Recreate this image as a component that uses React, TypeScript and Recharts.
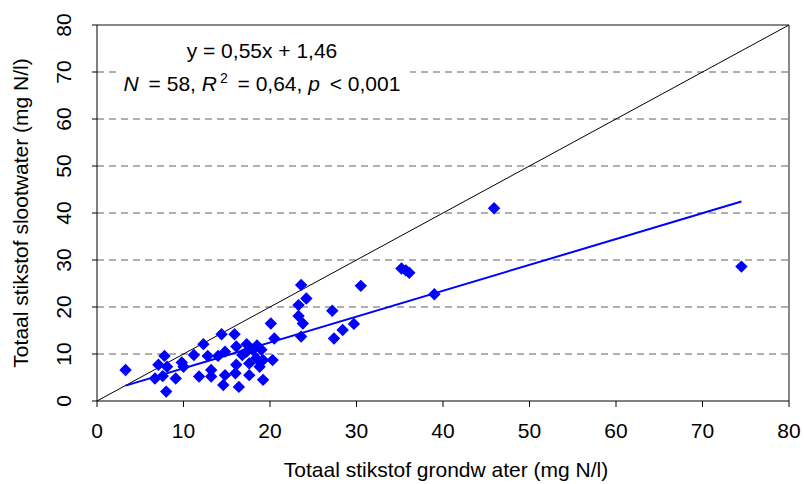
import { ScatterChart, Scatter, XAxis, YAxis, CartesianGrid, ReferenceLine, Customized } from 'recharts';

// groundwater (x) vs ditch water (y) total nitrogen, mg N/l
const groundwater = [
  3.3, 6.7, 7.1, 7.8, 8.1, 7.6, 8.0, 9.1, 10.0, 9.8,
  11.2, 12.3, 11.8, 12.8, 13.2, 13.2, 14.4, 14.0, 14.8, 14.6,
  15.9, 16.1, 16.1, 16.0, 16.4, 17.3, 17.3, 18.0, 19.0, 18.4,
  19.2, 20.3, 17.6, 18.8, 17.6, 19.2, 20.1, 20.5, 23.6, 24.2,
  23.3, 23.3, 23.8, 23.6, 27.2, 27.4, 28.4, 29.7, 30.5, 35.2,
  35.7, 36.1, 39.0, 45.9, 74.5, 16.8, 14.8, 18.5,
];
const slootwater = [
  6.6, 4.8, 7.7, 9.6, 7.3, 5.3, 2.0, 4.8, 7.3, 8.2,
  9.8, 12.1, 5.2, 9.6, 6.6, 5.2, 14.2, 9.6, 10.5, 3.4,
  14.2, 11.6, 7.7, 5.9, 3.0, 12.1, 10.5, 10.9, 10.9, 9.1,
  8.7, 8.7, 8.0, 7.3, 5.5, 4.5, 16.5, 13.3, 24.7, 21.8,
  20.4, 18.1, 16.5, 13.7, 19.2, 13.3, 15.1, 16.4, 24.5, 28.2,
  27.8, 27.3, 22.7, 41.0, 28.6, 9.8, 5.5, 11.8,
];

const xTicks = [0, 10, 20, 30, 40, 50, 60, 70, 80];
const yTicks = [0, 10, 20, 30, 40, 50, 60, 70, 80];

// regression from the figure: y = 0,55x + 1,46
const slope = 0.55;
const intercept = 1.46;

const points = groundwater.map((x, i) => ({ x, y: slootwater[i] }));
const xMin = Math.min(...groundwater);
const xMax = Math.max(...groundwater);

const FONT = '"Liberation Sans", Arial, sans-serif';
const FS = 21;

const Diamond = ({ cx, cy }: any) => {
  const r = 6.2;
  return (
    <polygon
      points={`${cx},${cy - r} ${cx + r},${cy} ${cx},${cy + r} ${cx - r},${cy}`}
      fill="#0000ff"
    />
  );
};

// y tick labels are drawn turned a quarter, like the axis title
const YTick = ({ x, y, payload }: any) => (
  <text
    x={x}
    y={y}
    transform={`rotate(-90, ${x}, ${y})`}
    textAnchor="middle"
    fontSize={FS}
    fontFamily={FONT}
    fill="#000"
  >
    {payload.value}
  </text>
);

const Annotations = () => (
  <g fontFamily={FONT} fontSize={FS} fill="#000">
    <rect x={117} y={33} width={293} height={64} fill="#fff" />
    <text x={262} y={58} textAnchor="middle">y = 0,55x + 1,46</text>
    <text x={262} y={91} textAnchor="middle">
      <tspan fontStyle="italic">N</tspan>
      <tspan dx={4}> = 58, </tspan>
      <tspan fontStyle="italic">R</tspan>
      <tspan fontSize={14} dx={3} dy={-8}>2</tspan>
      <tspan dx={4} dy={8}> = 0,64, </tspan>
      <tspan fontStyle="italic">p</tspan>
      <tspan dx={4}> &lt; 0,001</tspan>
    </text>
    <text x={446} y={477} textAnchor="middle">Totaal stikstof grondw ater (mg N/l)</text>
    <text x={28} y={213} textAnchor="middle" transform="rotate(-90, 28, 213)">
      Totaal stikstof slootwater (mg N/l)
    </text>
  </g>
);

export default function App() {
  return (
    <div style={{ position: 'absolute', left: 0, top: 0, background: '#fff' }}>
      <ScatterChart width={804} height={484} margin={{ top: 25, right: 15, bottom: 0, left: 0 }}>
        <CartesianGrid
          horizontal={true}
          vertical={false}
          stroke="#606060"
          strokeDasharray="7 5"
          horizontalValues={yTicks.slice(1, -1)}
        />
        <XAxis
          type="number"
          dataKey="x"
          domain={[0, 80]}
          ticks={xTicks}
          height={83}
          stroke="#000"
          tickSize={6}
          tickMargin={16}
          tick={{ fontSize: FS, fontFamily: FONT, fill: '#000' }}
        />
        <YAxis
          type="number"
          dataKey="y"
          domain={[0, 80]}
          ticks={yTicks}
          width={97}
          stroke="#000"
          tickSize={5}
          tickMargin={21}
          tick={<YTick />}
        />
        <ReferenceLine y={80} stroke="#888" strokeWidth={2} />
        <ReferenceLine x={80} stroke="#888" strokeWidth={2} />
        <ReferenceLine segment={[{ x: 0, y: 0 }, { x: 80, y: 80 }]} stroke="#000" strokeWidth={1} />
        <ReferenceLine
          segment={[
            { x: xMin, y: slope * xMin + intercept },
            { x: xMax, y: slope * xMax + intercept },
          ]}
          stroke="#0000ff"
          strokeWidth={2}
        />
        <Scatter data={points} shape={<Diamond />} isAnimationActive={false} />
        <Customized component={<Annotations />} />
      </ScatterChart>
    </div>
  );
}
